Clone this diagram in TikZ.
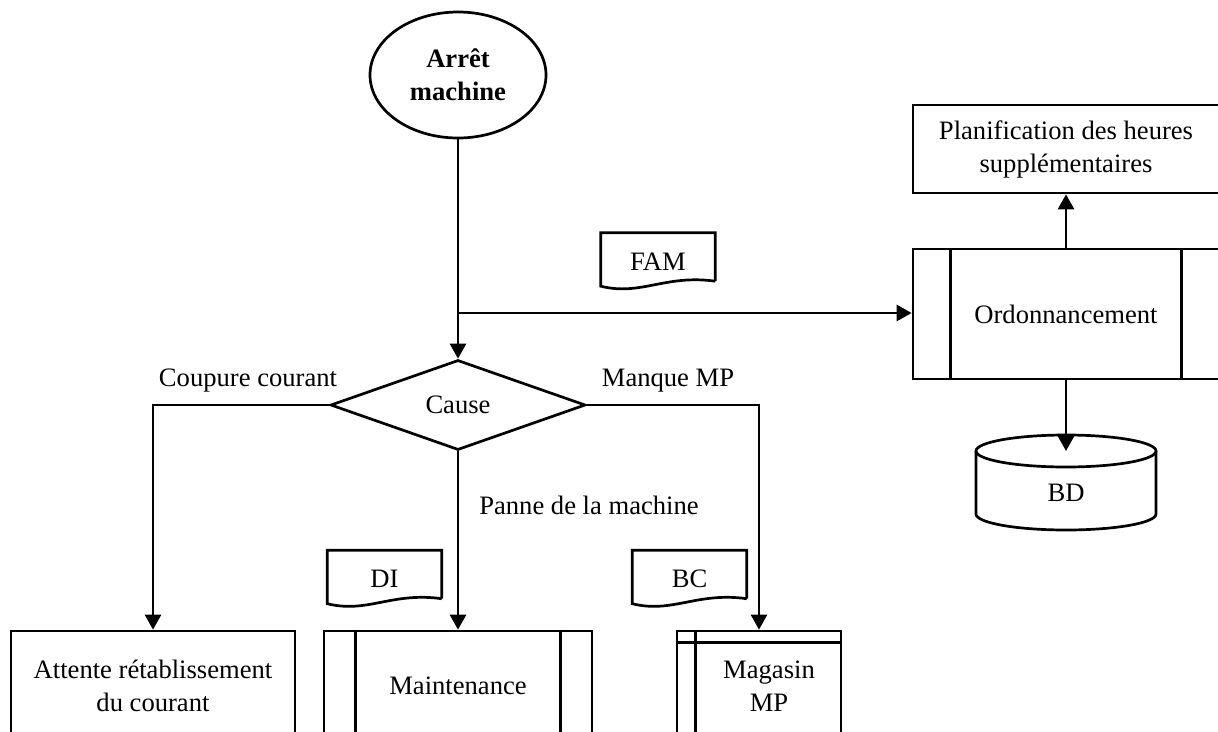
\documentclass[tikz,border=0pt]{standalone}
\usepackage{fontspec}
\setmainfont{Liberation Serif}
\usetikzlibrary{arrows.meta}
\usetikzlibrary{shapes.geometric}
\usetikzlibrary{calc}

\newcommand{\diagfont}{\fontsize{26.6pt}{33pt}\selectfont}

\tikzset{
  line/.style={line width=2.7pt},
  arrow/.style={line, -{Triangle[length=15pt,width=16pt]}},
  boxnode/.style={draw, line, rectangle, inner sep=0pt, align=center},
  docnode/.style={rectangle, inner sep=0pt, minimum width=114pt, minimum height=57pt},
  lbl/.style={inner sep=0pt},
}

% document symbol with a wavy lower edge
\newcommand{\docshape}[3]{%
  \node[docnode] (#1) at (#2) {#3};
  \draw[line] ($(#1.south east)+(0,-9)$) -- (#1.north east) -- (#1.north west)
    -- ($(#1.south west)+(0,-4)$)
    .. controls ($(#1.south west)+(40,6)$) and ($(#1.south east)+(-50,-16)$) .. ($(#1.south east)+(0,-9)$);
}

\begin{document}
\begin{tikzpicture}[x=1pt,y=-1pt,every node/.style={font=\diagfont}]
  \clip (0,0) rectangle (1218,731);

  \node[ellipse, draw, line, minimum width=176pt, minimum height=126pt, inner sep=0pt,
        align=center, font=\diagfont\bfseries] (arret) at (458,75) {Arrêt\\machine};
  \node[diamond, draw, line, aspect=2.8, minimum width=255pt, minimum height=90pt,
        inner sep=0pt] (cause) at (458,405) {Cause};

  \node[boxnode, minimum width=284pt, minimum height=110pt] (attente) at (153,686)
        {Attente rétablissement\\du courant};
  \node[boxnode, minimum width=268pt, minimum height=110pt] (maint) at (458,686) {Maintenance};
  \node[boxnode, minimum width=164pt, minimum height=110pt] (magasin) at (759,686) {};
  \node[align=center] (magtxt) at (769,686) {Magasin\\MP};
  \node[boxnode, minimum width=306pt, minimum height=130pt] (ordo) at (1066,314) {Ordonnancement};
  \node[boxnode, minimum width=306pt, minimum height=88pt] (planif) at (1066,149)
        {Planification des heures\\supplémentaires};

  \draw[line] ([xshift=39pt]ordo.north west) -- ([xshift=39pt]ordo.south west);
  \draw[line] ([xshift=-39pt]ordo.north east) -- ([xshift=-39pt]ordo.south east);
  \draw[line] ([xshift=33pt]maint.north west) -- ([xshift=33pt]maint.south west);
  \draw[line] ([xshift=-33pt]maint.north east) -- ([xshift=-33pt]maint.south east);
  \draw[line] ([xshift=20pt]magasin.north west) -- ([xshift=20pt]magasin.south west);
  \draw[line] ([yshift=-13pt]magasin.north west) -- ([yshift=-13pt]magasin.north east);

  % base de donnees
  \coordinate (bdtop) at (1066,451);
  \draw[line] (bdtop) ellipse [x radius=90pt, y radius=16pt];
  \draw[line] ($(bdtop)+(-90,0)$) -- ++(0,63)
    arc[start angle=180, end angle=360, x radius=90pt, y radius=16pt] -- ++(0,-63);
  \node (bd) at (1066,493) {BD};

  \docshape{fam}{658,261.5}{FAM}
  \docshape{di}{384.5,579}{DI}
  \docshape{bc}{689.5,579}{BC}

  \coordinate (fork) at (458,313);
  \draw[arrow] (arret.south) -- (cause.north);
  \draw[arrow] (fork) -- (fork -| ordo.west);
  \draw[arrow] (cause.west) -| (attente.north);
  \draw[arrow] (cause.east) -| (magasin.north);
  \draw[arrow] (cause.south) -- (maint.north);
  \draw[arrow] (ordo.north) -- (planif.south);
  \draw[arrow] (ordo.south) -- (bdtop);

  \node[lbl] (coupure) at (248,381) {Coupure courant};
  \node[lbl] (manque) at (668,381) {Manque MP};
  \node[lbl] (panne) at (589,505) {Panne de la machine};
\end{tikzpicture}
\end{document}
